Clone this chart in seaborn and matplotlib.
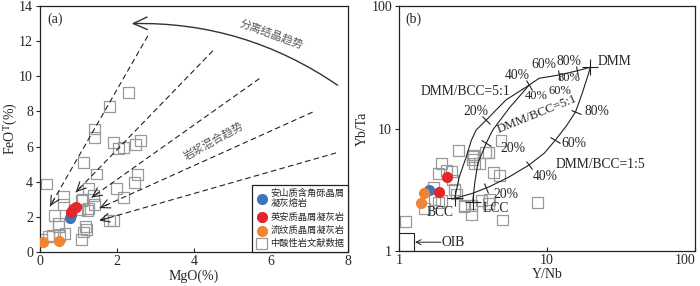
import numpy as np
import pandas as pd
import matplotlib
matplotlib.use("Agg")
import matplotlib.pyplot as plt
import seaborn as sns
from matplotlib.markers import MarkerStyle
from matplotlib.transforms import Affine2D

# ---------------- data: panel (a) MgO vs FeOT ----------------
lit_mgo = [2.31, 1.81, 1.41, 1.41, 1.92, 2.03, 2.18, 2.49, 2.62, 1.12, 0.17, 1.47, 2.53, 2.46,
           1.99, 2.18, 1.25, 0.60, 0.60, 1.08, 1.38, 1.42, 1.24, 1.26, 0.37, 0.47, 0.49, 0.65,
           0.32, 0.04, 0.23, 1.17, 1.21, 1.12, 1.08, 1.81, 1.92, 0.50, 1.10, 1.02]
lit_feo = [9.10, 8.30, 7.00, 6.53, 6.25, 5.90, 5.96, 6.10, 6.34, 5.10, 3.87, 4.44, 4.40, 3.96,
           3.64, 3.10, 3.64, 3.16, 2.69, 2.95, 3.20, 2.69, 2.34, 2.50, 2.06, 1.62, 1.43, 1.05,
           0.95, 0.73, 0.86, 1.43, 1.30, 1.14, 0.73, 1.81, 1.81, 0.95, 3.00, 2.40]
and_mgo = [0.78, 0.80]
and_feo = [1.95, 2.12]
dac_mgo = [0.80, 0.86, 0.93]
dac_feo = [2.28, 2.42, 2.55]
rhy_mgo = [0.09, 0.50]
rhy_feo = [0.55, 0.60]

# mixing-trend dashed arrows (start -> tip)
mix_start_x = [2.80, 4.49, 5.70, 7.08, 7.69]
mix_start_y = [12.30, 11.45, 9.87, 7.96, 5.64]
mix_tip_x = [0.26, 0.93, 1.34, 1.55, 1.54]
mix_tip_y = [2.60, 3.40, 3.10, 2.50, 1.79]
# fractional crystallization arrow
fc_start = (7.73, 9.49)
fc_end = (2.38, 13.0)

# ---------------- data: panel (b) Y/Nb vs Yb/Ta ----------------
lit_ynb = [2.54, 3.20, 3.12, 3.24, 4.04, 4.89, 1.93, 1.84, 2.26, 2.31, 4.36, 4.76, 2.44, 1.74,
           1.93, 1.84, 1.49, 2.75, 3.10, 4.07, 4.00, 3.07, 5.00, 1.10, 8.60, 3.15, 3.86, 3.50,
           2.09, 2.38, 2.77, 1.70, 3.60]
lit_ybta = [6.59, 6.08, 5.60, 5.20, 6.40, 8.00, 5.20, 4.30, 4.45, 3.80, 4.36, 4.17, 2.92, 2.64,
            2.57, 2.48, 2.24, 2.30, 2.37, 2.64, 2.45, 2.00, 1.79, 1.73, 2.47, 5.93, 6.40, 5.20,
            4.58, 3.15, 2.37, 3.30, 2.57]
and_ynb = [1.59]
and_ybta = [3.13]
dac_ynb = [2.12, 1.86]
dac_ybta = [4.00, 3.05]
rhy_ynb = [1.48, 1.40]
rhy_ybta = [3.00, 2.45]

# mixing curves
cur_bcc51_x = [2.38, 2.55, 2.85, 3.08, 3.32, 3.88, 5.28, 7.57, 8.84, 12.0, 16.0, 19.65]
cur_bcc51_y = [2.69, 4.00, 5.89, 8.00, 9.72, 11.7, 17.1, 22.6, 25.7, 27.3, 29.6, 31.6]
cur_lcc51_x = [3.15, 3.25, 3.41, 3.88, 4.30, 5.56, 7.57]
cur_lcc51_y = [2.53, 3.60, 5.20, 7.57, 9.72, 14.7, 22.6]
cur_bcc15_x = [2.38, 3.15, 4.08, 5.50, 7.57, 9.60, 11.4, 13.6, 15.6, 17.3, 19.1, 19.65]
cur_bcc15_y = [2.69, 2.96, 3.35, 4.00, 5.04, 6.30, 8.05, 10.6, 13.7, 19.4, 28.2, 31.6]
# tick marks on curves (x, y, curve direction in degrees)
tick_x = [3.88, 7.57, 12.0, 16.0, 3.88, 3.88, 7.57, 11.4, 15.6]
tick_y = [11.7, 22.6, 27.3, 29.6, 7.57, 3.25, 5.04, 8.05, 13.7]
tick_dir = [45, 32, 10, 10, 62, 22, 38, 55, 70]
end_x = [2.38, 3.15, 19.65]
end_y = [2.69, 2.53, 31.6]
# labels
lab_text = ["20%", "40%", "60%", "80%", "40%", "60%", "80%", "20%", "20%", "40%", "60%", "80%",
            "BCC", "LCC", "DMM", "DMM/BCC=5:1", "DMM/BCC=1:5"]
lab_x = [3.32, 6.32, 9.55, 14.1, 8.45, 12.2, 14.0, 5.85, 5.28, 9.8, 15.2, 21.8,
         1.90, 4.53, 28.6, 2.82, 22.9]
lab_y = [13.7, 27.3, 33.0, 35.1, 18.4, 20.3, 25.6, 6.89, 2.88, 4.07, 7.57, 13.7,
         2.08, 2.21, 35.1, 20.2, 5.06]
lab_fs = [9.8, 9.8, 9.8, 9.8, 9.0, 9.0, 9.0, 9.8, 9.8, 9.8, 9.8, 9.8,
          9.8, 9.8, 9.8, 9.8, 9.8]
rot_label = ("DMM/BCC=5:1", 8.6, 13.0, 22)
oib_box_x = [1.0, 1.26]
oib_box_y = [1.0, 1.40]
oib_text = (2.31, 1.18)

# ---------------- style ----------------
sns.set_style("ticks")
plt.rcParams["font.family"] = ["Liberation Serif", "Noto Sans CJK SC"]
plt.rcParams["mathtext.fontset"] = "stix"
plt.rcParams["axes.linewidth"] = 0.9
plt.rcParams["axes.edgecolor"] = "#222222"

c_blue = "#3a76b8"
c_red = "#e3262b"
c_orange = "#ee8434"
c_sq = "#9a9a9a"

fig = plt.figure(figsize=(7.0, 2.86), dpi=100)
axa = fig.add_axes([40/700, 34/286, 308/700, 246/286])
axb = fig.add_axes([399/700, 35/286, 296/700, 245/286])

fs_tick = 10
fs_lab = 10

# ---------------- panel (a) ----------------
df_lit_a = pd.DataFrame({"MgO": lit_mgo, "FeO": lit_feo})
sns.scatterplot(data=df_lit_a, x="MgO", y="FeO", ax=axa, marker="s", s=62,
                facecolors="none", edgecolor=c_sq, linewidth=0.9, zorder=2,
                label="中酸性岩文献数据")
for xs, ys, col, lab in [(and_mgo, and_feo, c_blue, "安山质含角砾晶屑\n凝灰熔岩"),
                         (dac_mgo, dac_feo, c_red, "英安质晶屑凝灰岩"),
                         (rhy_mgo, rhy_feo, c_orange, "流纹质晶屑凝灰岩")]:
    sns.scatterplot(x=xs, y=ys, ax=axa, color=col, s=65, linewidth=0, zorder=4, label=lab)

for sx, sy, tx, ty in zip(mix_start_x, mix_start_y, mix_tip_x, mix_tip_y):
    axa.plot([sx, tx], [sy, ty], ls=(0, (5, 3)), lw=0.8, color="#222222", zorder=3)
    bx = tx + 0.04 * (sx - tx)
    by = ty + 0.04 * (sy - ty)
    axa.annotate("", xy=(tx, ty), xytext=(bx, by),
                 arrowprops=dict(arrowstyle="->,head_length=0.65,head_width=0.32",
                                 lw=0.8, color="#222222", shrinkA=0, shrinkB=0), zorder=3)

axa.annotate("", xy=fc_end, xytext=fc_start,
             arrowprops=dict(arrowstyle="->,head_length=1.0,head_width=0.45",
                             connectionstyle="arc3,rad=0.16", lw=1.0, color="#333333",
                             shrinkA=0, shrinkB=0))
axa.text(6.0, 12.4, "分离结晶趋势", rotation=-20, ha="center", va="center",
         fontsize=8, color="#555555")
axa.text(4.5, 6.35, "岩浆混合趋势", rotation=29, ha="center", va="center",
         fontsize=8, color="#555555")
axa.text(0.025, 0.975, "(a)", transform=axa.transAxes, ha="left", va="top", fontsize=fs_lab)

axa.set_xlim(0, 8)
axa.set_ylim(0, 14)
axa.set_xticks([0, 2, 4, 6, 8])
axa.set_yticks([0, 2, 4, 6, 8, 10, 12, 14])
axa.set_xlabel("MgO(%)", fontsize=fs_lab, labelpad=1)
axa.set_ylabel("FeO$^\\mathrm{T}$(%)", fontsize=fs_lab)
axa.yaxis.set_label_coords(-0.066, 0.5)
axa.tick_params(axis="both", labelsize=fs_tick, length=3, width=0.8, pad=2)
axa.tick_params(axis="x", direction="in")
for sp in axa.spines.values():
    sp.set_visible(True)

h, l = axa.get_legend_handles_labels()
order = [1, 2, 3, 0]
leg = axa.legend([h[i] for i in order], [l[i] for i in order], loc="lower right",
                 borderaxespad=0, fancybox=False, edgecolor="#222222", framealpha=1,
                 fontsize=6.7, handletextpad=0.2, labelspacing=0.45, borderpad=0.4,
                 handlelength=1.4, markerscale=1.0)
leg.get_frame().set_linewidth(0.9)

# ---------------- panel (b) ----------------
df_lit_b = pd.DataFrame({"YNb": lit_ynb, "YbTa": lit_ybta})
sns.scatterplot(data=df_lit_b, x="YNb", y="YbTa", ax=axb, marker="s", s=62,
                facecolors="none", edgecolor=c_sq, linewidth=0.9, zorder=2)
for xs, ys, col in [(and_ynb, and_ybta, c_blue), (dac_ynb, dac_ybta, c_red),
                    (rhy_ynb, rhy_ybta, c_orange)]:
    sns.scatterplot(x=xs, y=ys, ax=axb, color=col, s=65, linewidth=0, zorder=4)

for cx, cy in [(cur_bcc51_x, cur_bcc51_y), (cur_lcc51_x, cur_lcc51_y), (cur_bcc15_x, cur_bcc15_y)]:
    sns.lineplot(x=cx, y=cy, ax=axb, color="#222222", lw=0.8, sort=False, estimator=None, zorder=3)

for x, y, d in zip(tick_x, tick_y, tick_dir):
    m = MarkerStyle("|", transform=Affine2D().rotate_deg(d))
    axb.plot([x], [y], marker=m, ms=8, mew=0.8, color="#222222", ls="none", zorder=3)
axb.plot(end_x, end_y, marker="+", ms=11, mew=0.8, color="#222222", ls="none", zorder=3)

for t, x, y, f in zip(lab_text, lab_x, lab_y, lab_fs):
    axb.text(x, y, t, ha="center", va="center", fontsize=f, zorder=5)
axb.text(rot_label[1], rot_label[2], rot_label[0], rotation=rot_label[3],
         ha="center", va="center", fontsize=9.3, zorder=5)

axb.plot([oib_box_x[0], oib_box_x[1], oib_box_x[1], oib_box_x[0]],
         [oib_box_y[0], oib_box_y[0], oib_box_y[1], oib_box_y[1]], color="#222222", lw=0.8)
axb.annotate("", xy=(oib_box_x[1] * 1.02, oib_text[1]), xytext=(1.92, oib_text[1]),
             arrowprops=dict(arrowstyle="->,head_length=0.35,head_width=0.18", lw=0.7,
                             color="#222222", shrinkA=0, shrinkB=0))
axb.text(oib_text[0], oib_text[1], "OIB", ha="center", va="center", fontsize=9.8)
axb.text(0.02, 0.975, "(b)", transform=axb.transAxes, ha="left", va="top", fontsize=fs_lab)

axb.set_xscale("log")
axb.set_yscale("log")
axb.set_xlim(1, 100)
axb.set_ylim(1, 100)
axb.set_xticks([1, 10, 100])
axb.set_xticklabels(["1", "10", "100"])
axb.set_yticks([1, 10, 100])
axb.set_yticklabels(["1", "10", "100"])
axb.minorticks_off()
axb.set_xlabel("Y/Nb", fontsize=fs_lab, labelpad=1)
axb.set_ylabel("Yb/Ta", fontsize=fs_lab, labelpad=2)
axb.tick_params(axis="both", labelsize=fs_tick, length=3, width=0.8, pad=2)
axb.tick_params(axis="x", direction="in")
axb.get_xticklabels()[-1].set_horizontalalignment("right")
if axb.get_legend() is not None:
    axb.get_legend().remove()

fig.savefig("out.png", dpi=100)
